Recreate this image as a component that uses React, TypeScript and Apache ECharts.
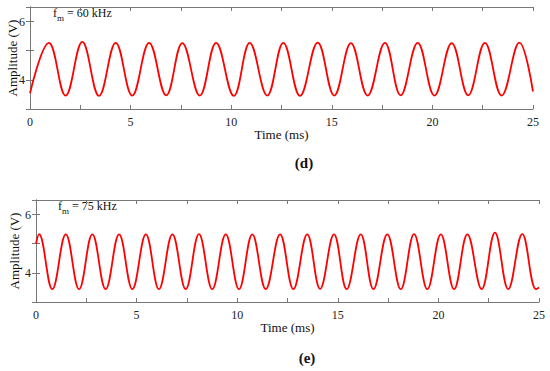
import React, { useEffect, useRef } from "react";
import * as echarts from "echarts";

// Panel (d): f_m = 60 kHz — extremes of the waveform
const topTimes = [0, 0.94, 1.77, 2.6, 3.43, 4.26, 5.08, 5.92, 6.77, 7.57, 8.44, 9.25, 10.13, 10.92, 11.79, 12.59, 13.42, 14.3, 15.12, 15.95, 16.78, 17.64, 18.42, 19.27, 20.1, 20.96, 21.78, 22.61, 23.44, 24.32, 25];
const topValues = [3.54, 5.27, 3.46, 5.3, 3.45, 5.27, 3.46, 5.27, 3.47, 5.26, 3.46, 5.27, 3.45, 5.27, 3.46, 5.27, 3.45, 5.28, 3.46, 5.26, 3.46, 5.27, 3.47, 5.27, 3.46, 5.26, 3.47, 5.27, 3.46, 5.28, 3.6];

// Panel (e): f_m = 75 kHz
const botTimes = [0, 0.15, 0.81, 1.48, 2.14, 2.8, 3.46, 4.13, 4.79, 5.46, 6.11, 6.78, 7.44, 8.1, 8.76, 9.43, 10.09, 10.75, 11.42, 12.13, 12.79, 13.48, 14.12, 14.81, 15.44, 16.14, 16.77, 17.46, 18.13, 18.79, 19.45, 20.12, 20.78, 21.44, 22.15, 22.81, 23.47, 24.17, 24.85, 25];
const botValues = [5.0, 5.33, 3.44, 5.32, 3.44, 5.32, 3.44, 5.32, 3.44, 5.32, 3.44, 5.32, 3.44, 5.33, 3.44, 5.32, 3.44, 5.32, 3.44, 5.32, 3.44, 5.32, 3.45, 5.32, 3.44, 5.32, 3.44, 5.32, 3.44, 5.33, 3.44, 5.32, 3.44, 5.32, 3.44, 5.38, 3.44, 5.33, 3.44, 3.5];

const xTickLabels = [0, 5, 10, 15, 20, 25];
const yTickLabels = [4, 6];
const panelLabels = ["(d)", "(e)"];
const freqLabels = ["60 kHz", "75 kHz"];

const FONT = "'Liberation Serif', 'Times New Roman', serif";
const AXIS_COLOR = "#777";

export default function App() {
  const ref = useRef<HTMLDivElement>(null);
  useEffect(() => {
    if (!ref.current) return;
    const chart = echarts.init(ref.current, null, { renderer: "svg" });
    const grids = [
      { left: 30, top: 7, width: 503, height: 102, containLabel: false, outerBoundsMode: "none" },
      { left: 36, top: 200, width: 503, height: 102, containLabel: false, outerBoundsMode: "none" },
    ];
    const axisLine = { show: true, lineStyle: { color: AXIS_COLOR, width: 1 } };
    const axisTick = { show: true, inside: true, length: 4, lineStyle: { color: AXIS_COLOR } };
    const xAxes: any[] = [];
    const yAxes: any[] = [];
    grids.forEach((_, i) => {
      const base = { type: "value", gridIndex: i, min: 0, max: 25, interval: 2.5, splitLine: { show: false }, axisLine, axisTick };
      xAxes.push({
        ...base,
        position: "bottom",
        name: "Time (ms)",
        nameLocation: "middle",
        nameGap: 19,
        nameMoveOverlap: false,
        nameTextStyle: { fontFamily: FONT, fontSize: 13, color: "#111" },
        axisLabel: {
          fontFamily: FONT, fontSize: 12, color: "#222", margin: 7,
          formatter: (v: number) => (xTickLabels.includes(v) ? String(v) : ""),
        },
      });
      xAxes.push({ ...base, position: "top", axisLabel: { show: false } });
      const ybase = { type: "value", gridIndex: i, min: 3, max: 6.5, interval: 1, splitLine: { show: false }, axisLine, axisTick };
      yAxes.push({
        ...ybase,
        position: "left",
        name: "Amplitude (V)",
        nameLocation: "middle",
        nameGap: i === 0 ? 11 : 15,
        nameMoveOverlap: false,
        nameTextStyle: { fontFamily: FONT, fontSize: 13, color: "#111" },
        axisLabel: {
          fontFamily: FONT, fontSize: 12, color: "#222", margin: 5,
          formatter: (v: number) => (yTickLabels.includes(v) ? String(v) : ""),
        },
      });
      yAxes.push({ ...ybase, position: "right", axisLabel: { show: false } });
    });

    const mk = (t: number[], v: number[]) => t.map((x, i) => [x, v[i]]);

    chart.setOption({
      animation: false,
      textStyle: { fontFamily: FONT },
      grid: grids,
      xAxis: xAxes,
      yAxis: yAxes,
      series: [
        {
          type: "line", xAxisIndex: 0, yAxisIndex: 0, data: mk(topTimes, topValues),
          showSymbol: false, smooth: 0.4, lineStyle: { color: "#ff0000", width: 1.8 },
        },
        {
          type: "line", xAxisIndex: 2, yAxisIndex: 2, data: mk(botTimes, botValues),
          showSymbol: false, smooth: 0.4, lineStyle: { color: "#ff0000", width: 1.8 },
        },
      ],
      graphic: [
        { type: "text", left: 53, top: 7, style: { text: "f", font: "12px " + FONT, fill: "#111" } },
        { type: "text", left: 57, top: 13, style: { text: "m", font: "9px " + FONT, fill: "#111" } },
        { type: "text", left: 67, top: 7, style: { text: "= " + freqLabels[0], font: "12px " + FONT, fill: "#111" } },
        { type: "text", left: 58, top: 200, style: { text: "f", font: "12px " + FONT, fill: "#111" } },
        { type: "text", left: 62, top: 206, style: { text: "m", font: "9px " + FONT, fill: "#111" } },
        { type: "text", left: 72, top: 200, style: { text: "= " + freqLabels[1], font: "12px " + FONT, fill: "#111" } },
        { type: "text", x: 304, y: 163, style: { text: panelLabels[0], font: "bold 15px " + FONT, fill: "#111", align: "center", verticalAlign: "middle" } },
        { type: "text", x: 307, y: 358, style: { text: panelLabels[1], font: "bold 15px " + FONT, fill: "#111", align: "center", verticalAlign: "middle" } },
      ],
    });
    return () => chart.dispose();
  }, []);
  return (
    <div
      ref={ref}
      style={{ position: "absolute", left: 0, top: 0, width: 550, height: 371, background: "#fff" }}
    />
  );
}
